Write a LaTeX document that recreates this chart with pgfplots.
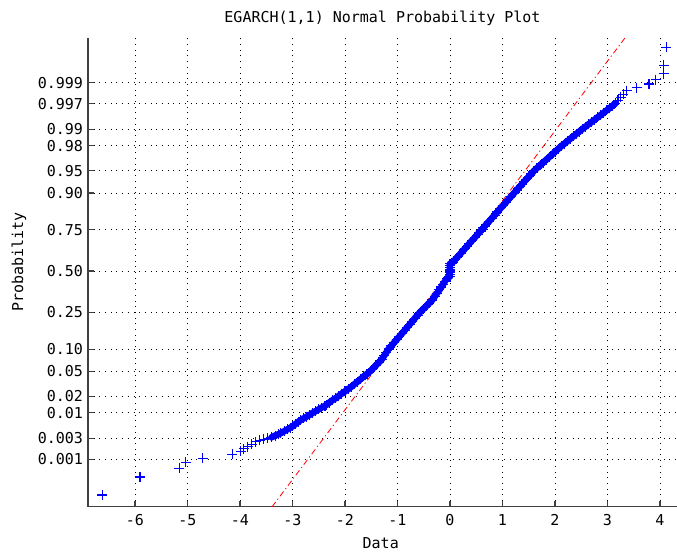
\documentclass[border=0pt]{standalone}
\usepackage{fontspec}
\setmainfont{DejaVu Sans Mono}
\usepackage{pgfplots}
\usepackage{pgfplotstable}
\pgfplotsset{compat=1.18}
\newcommand\myfont{\fontsize{15bp}{18bp}\selectfont}
% lower and upper tails (isolated points)
\pgfplotstableread{
x z
-6.62 -3.676
-5.905 -3.38
-5.16 -3.24
-5.03 -3.14
-4.71 -3.07
-4.15 -3.01
-3.99 -2.96
-3.93 -2.92
-3.85 -2.88
-3.78 -2.84
-3.70 -2.80
-3.62 -2.78
-3.55 -2.76
-3.47 -2.745
3.20 2.80
3.25 2.85
3.30 2.90
3.37 2.96
3.56 3.01
3.79 3.07
3.92 3.14
4.07 3.24
4.07 3.38
4.12 3.676
}\tails
% dense band of sorted residuals
\pgfplotstableread{
x z
-3.40 -2.73
-3.33 -2.70
-3.27 -2.68
-3.22 -2.66
-3.16 -2.63
-3.10 -2.60
-3.04 -2.57
-3.00 -2.55
-2.94 -2.51
-2.88 -2.47
-2.85 -2.45
-2.79 -2.42
-2.73 -2.39
-2.67 -2.36
-2.62 -2.33
-2.56 -2.30
-2.50 -2.27
-2.44 -2.24
-2.38 -2.21
-2.36 -2.20
-2.30 -2.16
-2.24 -2.12
-2.18 -2.09
-2.12 -2.05
-2.06 -2.01
-2.00 -1.975
-1.94 -1.94
-1.88 -1.90
-1.82 -1.857
-1.76 -1.815
-1.70 -1.772
-1.64 -1.73
-1.58 -1.687
-1.52 -1.645
-1.465 -1.596
-1.41 -1.548
-1.355 -1.50
-1.30 -1.45
-1.257 -1.393
-1.213 -1.337
-1.17 -1.28
-1.118 -1.228
-1.067 -1.177
-1.015 -1.125
-0.963 -1.073
-0.912 -1.022
-0.86 -0.97
-0.812 -0.921
-0.763 -0.872
-0.715 -0.822
-0.667 -0.773
-0.618 -0.724
-0.57 -0.6745
-0.5125 -0.625
-0.455 -0.575
-0.3975 -0.526
-0.34 -0.476
-0.293 -0.421
-0.247 -0.365
-0.20 -0.31
-0.165 -0.2625
-0.13 -0.215
-0.095 -0.1675
-0.06 -0.12
-0.03 -0.10
0 -0.09
0 -0.06
0 -0.03
0 0
0 0.03
0 0.06
0 0.09
0 0.12
0.03 0.13
0.05 0.14
0.103 0.192
0.156 0.244
0.210 0.295
0.263 0.347
0.316 0.399
0.369 0.451
0.422 0.503
0.476 0.554
0.529 0.606
0.582 0.658
0.635 0.710
0.688 0.762
0.742 0.813
0.795 0.865
0.848 0.917
0.901 0.969
0.954 1.021
1.008 1.072
1.061 1.124
1.114 1.176
1.167 1.228
1.22 1.28
1.267 1.326
1.315 1.371
1.362 1.417
1.41 1.463
1.457 1.508
1.505 1.554
1.552 1.599
1.60 1.645
1.658 1.69
1.716 1.735
1.773 1.78
1.831 1.825
1.889 1.87
1.947 1.915
2.004 1.96
2.062 2.005
2.12 2.05
2.177 2.09
2.234 2.13
2.291 2.17
2.349 2.21
2.406 2.25
2.463 2.29
2.52 2.33
2.579 2.369
2.637 2.407
2.696 2.446
2.754 2.484
2.813 2.523
2.871 2.561
2.93 2.60
2.985 2.6375
3.04 2.675
3.095 2.7125
3.15 2.75
}\band
\begin{document}
\begin{tikzpicture}
\useasboundingbox (-88bp,-46.3bp) rectangle (589bp,506.7bp);
\begin{axis}[
  at={(0,0)}, anchor=south west,
  scale only axis, width=589bp, height=469bp,
  xmin=-6.895, xmax=4.324, ymin=-3.868, ymax=3.83,
  axis x line*=bottom, axis y line*=left,
  axis line style={-, line width=1.2bp, black!75},
  tick style={line width=1.1bp, black!75},
  major tick length=6bp, tick align=inside,
  xtick={-6,-5,-4,-3,-2,-1,0,1,2,3,4},
  xticklabels={-6,-5,-4,-3,-2,-1,0,1,2,3,4},
  ytick={-3.0902,-2.7478,-2.3263,-2.0537,-1.6449,-1.2816,-0.6745,0,0.6745,1.2816,1.6449,2.0537,2.3263,2.7478,3.0902},
  yticklabels={0.001,0.003,0.01,0.02,0.05,0.10,0.25,0.50,0.75,0.90,0.95,0.98,0.99,0.997,0.999},
  tick label style={font=\myfont},
  xticklabel style={yshift=-4bp},
  yticklabel style={xshift=-1.5bp},
  grid=major,
  major grid style={black, line width=0.9bp, dash pattern=on 0.9bp off 4.8bp},
  title={EGARCH(1,1) Normal Probability Plot},
  title style={font=\myfont, at={(axis description cs:0.5,1.0203)}, anchor=base},
  xlabel={Data},
  xlabel style={font=\myfont, at={(axis description cs:0.497,-0.0896)}, anchor=base},
  ylabel={Probability},
  ylabel style={font=\myfont, at={(axis description cs:-0.1171,0.522)}, anchor=center},
]
\addplot[red, line width=0.8bp, dash pattern=on 6bp off 3bp on 1.2bp off 3bp]
  coordinates {(-3.39,-3.87) (3.336,3.83)};
\addplot[blue, line width=6.5bp, line cap=round, line join=round] table[x=x, y=z] {\band};
\addplot[only marks, mark=+, mark size=5bp, blue, mark options={line width=1.1bp}] table[x=x, y=z] {\band};
\addplot[only marks, mark=+, mark size=5bp, blue, mark options={line width=1.1bp}] table[x=x, y=z] {\tails};
\end{axis}
\end{tikzpicture}
\end{document}
